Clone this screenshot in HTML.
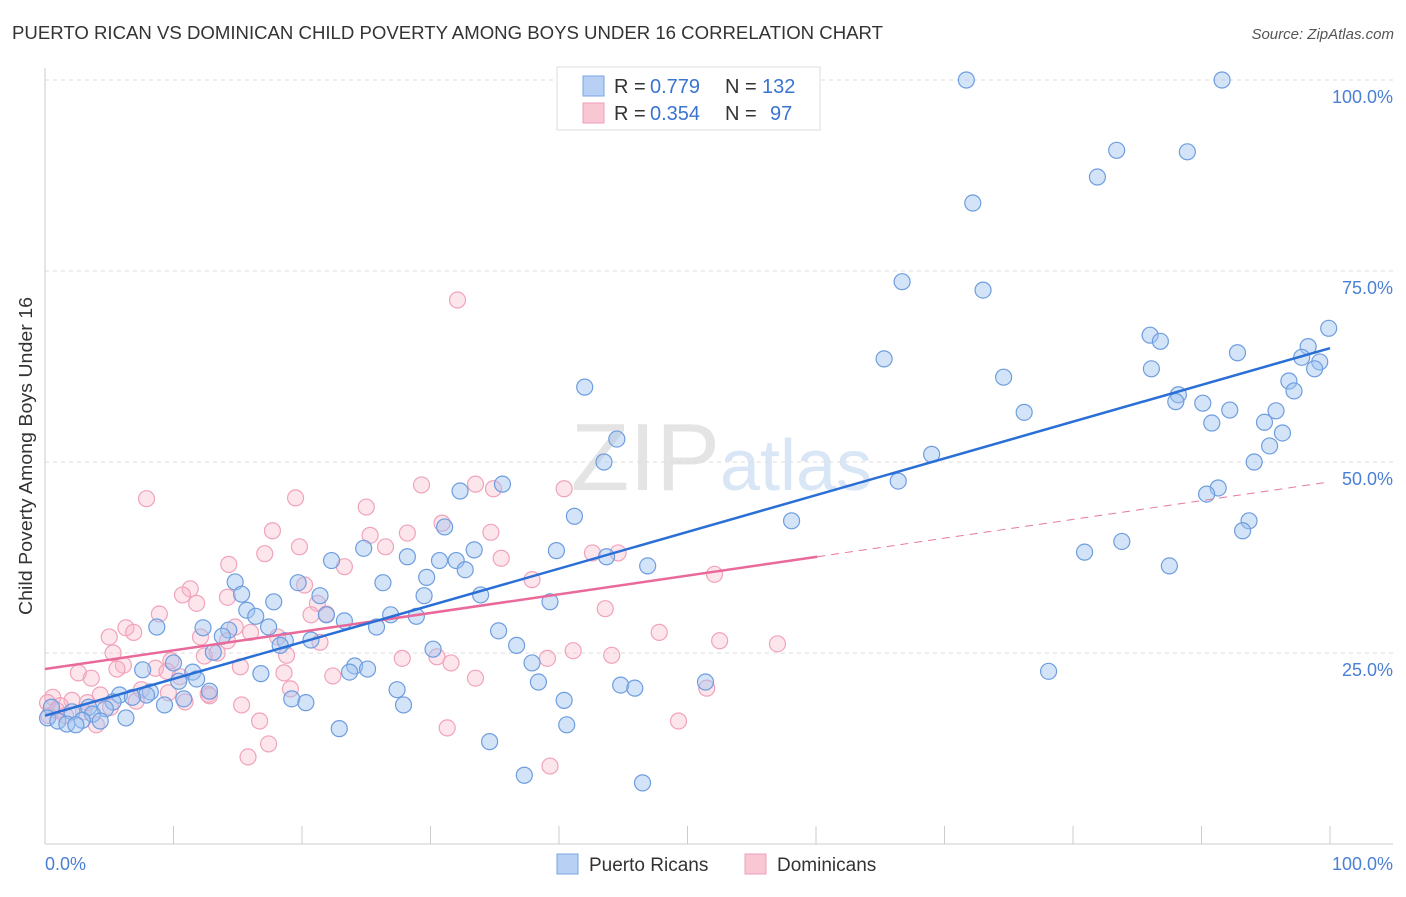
<!DOCTYPE html>
<html><head><meta charset="utf-8"><style>
body{margin:0;background:#fff;font-family:"Liberation Sans",sans-serif}
svg text{font-family:"Liberation Sans",sans-serif}
</style></head><body>
<svg id="chart" width="1406" height="892">
<text x="12" y="39" font-size="18" fill="#333" textLength="871" lengthAdjust="spacingAndGlyphs">PUERTO RICAN VS DOMINICAN CHILD POVERTY AMONG BOYS UNDER 16 CORRELATION CHART</text>
<text x="1394" y="39" font-size="15" fill="#555" text-anchor="end" font-style="italic">Source: ZipAtlas.com</text>
<text x="720" y="490" font-size="96" fill="#e4e4e4" text-anchor="end" font-family="Liberation Serif">ZIP</text>
<text x="720" y="490" font-size="72" fill="#d8e6f6">atlas</text>
<g id="grid"></g><g id="axes"></g><g id="pts"></g><g id="trend"></g>
<text x="32" y="456" font-size="18" fill="#333" text-anchor="middle" textLength="318" lengthAdjust="spacingAndGlyphs" transform="rotate(-90 32 456)">Child Poverty Among Boys Under 16</text>
<text x="45" y="870" font-size="18" fill="#4a7fd6">0.0%</text>
<text x="1393" y="870" font-size="18" fill="#4a7fd6" text-anchor="end">100.0%</text>
<g>
<rect x="557" y="67" width="263" height="63" fill="#fff" stroke="#ddd"/>
<rect x="583" y="76" width="21" height="20" fill="#b8d0f4" stroke="#7aa4e4"/>
<rect x="583" y="103" width="21" height="20" fill="#f9c6d4" stroke="#ef9db7"/>
<text x="614" y="93" font-size="20" fill="#333">R =</text>
<text x="650" y="93" font-size="20" fill="#3a74d0">0.779</text>
<text x="725" y="93" font-size="20" fill="#333">N =</text>
<text x="762" y="93" font-size="20" fill="#3a74d0">132</text>
<text x="614" y="120" font-size="20" fill="#333">R =</text>
<text x="650" y="120" font-size="20" fill="#3a74d0">0.354</text>
<text x="725" y="120" font-size="20" fill="#333">N =</text>
<text x="770" y="120" font-size="20" fill="#3a74d0">97</text>
</g>
<g>
<rect x="557" y="854" width="21" height="20" fill="#b8d0f4" stroke="#7aa4e4"/>
<text x="589" y="871" font-size="19" fill="#333">Puerto Ricans</text>
<rect x="745" y="854" width="21" height="20" fill="#f9c6d4" stroke="#ef9db7"/>
<text x="777" y="871" font-size="19" fill="#333">Dominicans</text>
</g>
</svg>
<script>
const yTicks=[25,50,75,100];
const yTickLabels=["25.0%","50.0%","75.0%","100.0%"];
const xTicks=[0,10,20,30,40,50,60,70,80,90,100];
const blueX=[71.7,91.6,83.4,88.9,81.9,72.2,66.7,73.0,99.9,86.0,86.8,98.3,92.8,65.3,97.8,99.2,98.8,86.1,74.6,96.8,42.0,97.2,88.2,88.0,90.1,76.2,92.2,95.8,90.8,94.9,96.3,44.5,95.3,69.0,43.5,94.1,66.4,35.6,32.3,91.3,90.4,41.2,58.1,93.7,31.1,93.2,83.8,24.8,33.4,39.8,80.9,28.2,43.7,30.7,22.3,32.0,87.5,46.9,32.7,29.7,26.3,14.8,19.7,15.3,21.4,29.5,33.9,17.8,39.3,15.7,16.4,21.9,26.9,28.9,23.3,8.7,25.8,17.4,12.3,14.3,35.3,13.8,20.7,18.7,18.3,36.7,30.2,13.1,10.0,37.9,24.1,25.1,7.6,23.7,11.5,78.1,16.8,11.8,10.4,51.4,38.4,44.8,45.9,27.4,12.8,8.2,5.8,7.9,6.8,19.2,10.8,40.4,5.3,20.3,9.3,27.9,3.4,0.5,4.7,2.1,3.7,0.2,6.3,2.9,1.0,4.3,1.7,2.4,40.6,22.9,34.6,37.3,46.5];
const blueY=[100,100,90.8,90.6,87.3,83.9,73.6,72.5,67.5,66.6,65.8,65.1,64.3,63.5,63.7,63.1,62.2,62.2,61.1,60.6,59.8,59.3,58.8,57.9,57.7,56.5,56.8,56.7,55.1,55.2,53.8,53.0,52.1,51.0,50.0,50.0,47.5,47.1,46.2,46.6,45.8,42.9,42.3,42.3,41.5,41.0,39.6,38.7,38.5,38.4,38.2,37.6,37.6,37.1,37.1,37.1,36.4,36.4,35.9,34.9,34.2,34.3,34.2,32.7,32.5,32.5,32.6,31.7,31.7,30.6,29.8,30.0,30.0,29.8,29.2,28.4,28.4,28.4,28.3,28.0,27.9,27.2,26.7,26.6,26.0,26.0,25.5,25.1,23.7,23.7,23.3,22.9,22.8,22.5,22.5,22.6,22.3,21.6,21.3,21.2,21.2,20.8,20.4,20.2,20.0,19.9,19.5,19.5,19.2,19.0,19.0,18.8,18.6,18.5,18.2,18.2,17.9,17.9,17.7,17.3,17.0,16.5,16.5,16.2,16.1,16.1,15.7,15.6,15.6,15.1,13.4,9.0,8.0];
const pinkX=[32.1,7.9,19.5,29.3,33.5,34.9,40.4,25.0,30.9,17.7,34.7,25.3,28.2,26.5,19.8,17.1,35.5,42.6,44.6,14.3,23.3,52.1,37.9,20.2,11.3,10.7,14.2,11.8,21.2,43.6,8.9,20.7,21.9,6.3,6.9,14.8,16.0,47.8,5.0,18.1,12.1,14.2,21.4,52.5,57.0,18.8,13.4,41.1,5.3,12.4,27.8,39.1,44.1,30.5,31.6,9.8,6.1,5.6,8.6,15.2,9.5,2.6,18.6,22.4,10.5,3.6,33.5,19.1,7.5,9.6,12.7,4.3,51.5,0.6,2.1,7.1,12.8,10.9,0.2,3.3,1.2,15.3,5.1,0.9,3.0,0.3,1.6,16.7,49.3,4.0,31.3,17.4,39.3,15.8];
const pinkY=[71.2,45.2,45.3,47.0,47.1,46.5,46.5,44.1,42.0,41.0,40.8,40.4,40.7,38.9,38.9,38.0,37.4,38.1,38.1,36.6,36.3,35.3,34.6,33.9,33.4,32.6,32.3,31.5,31.5,30.8,30.1,30.0,30.1,28.3,27.7,28.4,27.7,27.7,27.1,27.1,27.1,26.6,26.4,26.6,26.2,24.7,25.0,25.3,25.0,24.6,24.3,24.3,24.7,24.5,23.7,24.0,23.4,22.9,23.0,23.2,22.6,22.4,22.4,22.0,21.9,21.7,21.7,20.3,20.2,19.8,19.6,19.5,20.4,19.2,18.8,18.7,19.4,18.6,18.5,18.5,18.1,18.2,17.9,17.5,17.3,16.8,16.8,16.1,16.1,15.6,15.2,13.1,10.2,11.4];
const blueTrend=[[0,16.8],[100,64.9]];
const pinkTrendSolid=[[0,22.9],[60.1,37.6]];
const pinkTrendDash=[[60.1,37.6],[100,47.4]];
const NS="http://www.w3.org/2000/svg";
const sx=v=>45+v*12.85, sy=v=>844-v*7.64;
function mk(tag,attrs,parent){const e=document.createElementNS(NS,tag);for(const k in attrs)e.setAttribute(k,attrs[k]);document.getElementById(parent).appendChild(e);return e;}
yTicks.forEach((t,i)=>{
 const g=mk('line',{x1:45,x2:1393,y1:sy(t),y2:sy(t),stroke:'#ddd','stroke-dasharray':'4,4'},'grid');
 
 
 const l=mk('text',{x:1393,y:sy(t)+23,'font-size':18,fill:'#4a7fd6','text-anchor':'end'},'grid');
 l.textContent=yTickLabels[i];
 
 
});
const ya=mk('line',{x1:45,x2:45,y1:68,y2:844,stroke:'#ccc'},'axes');


const xa=mk('line',{x1:45,x2:1393,y1:844,y2:844,stroke:'#ccc'},'axes');


xTicks.forEach(t=>{const e=mk('line',{x1:sx(t),x2:sx(t),y1:826,y2:844,stroke:'#ccc'},'axes');
 
 });
pinkX.forEach((x,i)=>{const c=mk('circle',{cx:sx(x),cy:sy(pinkY[i]),r:8,fill:'rgba(248,180,200,0.35)',stroke:'#f0a3ba','stroke-width':1.2},'pts');
 
 });
blueX.forEach((x,i)=>{const c=mk('circle',{cx:sx(x),cy:sy(blueY[i]),r:8,fill:'rgba(160,195,240,0.45)',stroke:'#6e9ddf','stroke-width':1.2},'pts');
 
 });
function tl(p,col,dash,name){const e=mk('line',{x1:sx(p[0][0]),y1:sy(p[0][1]),x2:sx(p[1][0]),y2:sy(p[1][1]),stroke:col,'stroke-width':dash?1:2.5},'trend');
 if(dash)e.setAttribute('stroke-dasharray','8,6');
 
 }
tl(pinkTrendDash,'#e8799f',true,'dominican-trend-extension');
tl(pinkTrendSolid,'#e8699a',false,'dominican-trend-line');
tl(blueTrend,'#2a6fd6',false,'puerto-rican-trend-line');
</script>
</body></html>
